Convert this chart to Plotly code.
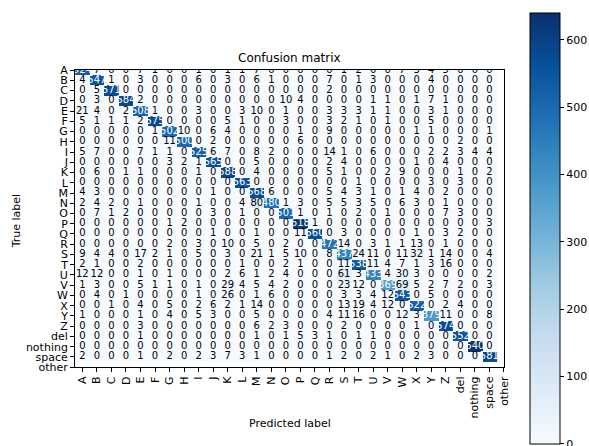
import numpy as np
import plotly.graph_objects as go

classes = list("ABCDEFGHIJKLMNOPQRSTUVWXYZ") + ["del", "nothing", "space", "other"]

row_A = [524,7,0,0,7,1,0,0,1,0,1,1,7,0,0,0,0,0,1, 2,0,0,7,3,4,5,0,0,0]
row_B = [4,547,1,0,3,0,0,0,6,0,3,0,6,1,0,0,0,7,0, 1,3,0,0,0,4,0,0,0,0]
row_C = [0,5,571,0,0,0,0,0,0,0,0,0,0,0,0,0,0,2,0, 0,0,0,0,0,0,0,0,0,0]
row_D = [0,3,0,584,2,0,0,0,0,0,0,0,0,0,10,4,0,0,0, 0,1,1,0,1,7,1,0,0,0]
row_E = [21,4,0,2,508,1,0,0,3,0,0,3,10,0,1,0,0,3,3, 3,1,1,0,0,3,1,0,0,0]
row_F = [5,1,1,1,2,575,0,0,0,0,5,1,0,0,3,0,0,3,2, 1,0,1,0,0,5,0,0,0,0]
row_G = [0,0,0,0,0,1,502,10,0,6,4,0,0,0,0,1,0,9,0, 0,0,0,0,1,1,0,0,0,1]
row_H = [0,0,0,0,0,0,11,500,0,2,0,0,0,0,0,6,0,0,0, 0,0,0,0,0,0,0,2,0,0]
row_I = [5,7,0,0,7,1,1,0,525,6,7,0,8,2,0,0,0,14,1, 0,6,0,0,0,2,2,3,4,4]
row_J = [0,0,0,0,0,0,3,2,1,565,0,0,5,0,0,0,0,2,4, 0,0,0,0,1,0,4,0,0,0]
row_K = [0,6,0,1,1,0,0,0,1,0,588,0,4,0,0,0,0,5,1, 0,0,2,9,0,0,0,1,0,2]
row_L = [0,0,0,0,0,0,0,0,0,0,0,563,0,0,0,0,0,0,0, 1,0,0,0,0,3,0,3,0,0]
row_M = [4,3,0,0,0,0,0,0,0,1,0,0,568,6,0,0,0,5,4, 3,1,0,1,4,0,2,0,0,0]
row_N = [2,4,2,0,1,0,0,0,1,0,0,4,80,480,1,3,0,5,5, 3,5,0,6,3,0,1,0,0,0]
row_O = [0,7,1,2,0,0,0,0,0,3,0,1,0,0,501,1,0,1,0, 2,0,1,0,0,0,7,3,0,0]
row_P = [0,0,0,0,0,0,1,2,0,0,0,0,0,0,0,618,1,0,0, 0,0,0,0,0,0,0,0,0,3]
row_Q = [0,0,0,0,0,0,0,0,0,1,0,0,1,0,0,11,560,0,3, 0,0,0,0,1,0,3,2,0,0]
row_R = [0,0,0,0,0,0,2,0,3,0,10,0,5,0,2,0,0,472,14, 0,3,1,1,13,0,1,0,0,0]
row_S = [9,4,4,0,17,2,1,0,5,0,3,0,21,1,5,10,0,8,437, 24,11,0,11,32,1,14,0,0,4]
row_T = [2,1,0,0,2,0,0,0,0,0,0,1,0,0,2,1,0,0,11, 538,11,4,7,1,3,16,0,0,0]
row_U = [12,12,0,0,1,0,1,0,0,0,2,6,1,2,4,0,0,0,61, 3,433,4,30,3,0,0,0,0,2]
row_V = [1,3,0,0,5,1,1,0,1,0,29,4,5,4,2,0,0,0,23, 12,0,369,69,5,2,7,2,0,3]
row_W = [0,4,0,1,0,0,0,0,1,0,26,0,1,6,0,0,0,0,3, 3,4,12,543,0,5,0,0,0,0]
row_X = [0,0,1,0,4,0,5,0,2,6,2,1,14,0,0,0,0,0,13, 19,4,12,0,522,0,2,4,0,0]
row_Y = [1,0,0,0,1,0,4,0,5,3,0,0,5,0,0,0,0,4,11, 16,0,0,12,3,379,11,0,0,8]
row_Z = [0,0,0,0,3,0,0,0,0,0,0,0,6,2,3,0,0,0,2, 0,0,0,0,1,0,574,0,0,0]
row_del = [0,0,0,0,1,0,0,0,0,0,0,0,1,0,1,5,3,1,0, 1,1,0,0,0,0,0,552,0,0]
row_nothing = [0,0,0,0,0,0,0,0,0,0,0,0,0,0,0,0,0,0,0, 0,0,0,0,0,0,0,0,640,0]
row_space = [2,0,0,0,1,0,2,0,2,3,7,3,1,0,0,0,0,1,2, 0,2,1,0,2,3,0,0,0,581]

cm = np.array([row_A, row_B, row_C, row_D, row_E, row_F, row_G, row_H, row_I,
               row_J, row_K, row_L, row_M, row_N, row_O, row_P, row_Q, row_R,
               row_S, row_T, row_U, row_V, row_W, row_X, row_Y, row_Z,
               row_del, row_nothing, row_space])
n = cm.shape[0]
zmax = cm.max()
thresh = zmax / 2.0

blues = [[0.0, "#f7fbff"], [0.125, "#deebf7"], [0.25, "#c6dbef"], [0.375, "#9ecae1"],
         [0.5, "#6baed6"], [0.625, "#4292c6"], [0.75, "#2171b5"], [0.875, "#08519c"],
         [1.0, "#08306b"]]

W, H = 589, 446
x0, x1 = 76, 510
y0, y1 = 66, 372

fig = go.Figure()
fig.add_trace(go.Heatmap(
    z=cm, x=list(range(n)), y=list(range(n)),
    colorscale=blues, zmin=0, zmax=zmax, hoverinfo="skip",
    colorbar=dict(
        thickness=30, thicknessmode="pixels",
        len=431, lenmode="pixels",
        x=536 / W, xanchor="left", xpad=0,
        y=1 - 7 / H, yanchor="top", ypad=0,
        outlinecolor="black", outlinewidth=1,
        ticks="outside", ticklen=4, tickcolor="black",
        tickvals=[0, 100, 200, 300, 400, 500, 600],
        ticktext=["0", "100", "200", "300", "400", "500", "600"],
        ticklabeloverflow="allow",
        tickfont=dict(family="DejaVu Sans", size=11, color="black"),
    ),
))

xs, ys, ts, cs = [], [], [], []
for i in range(n):
    for j in range(n):
        xs.append(j)
        ys.append(i)
        ts.append(str(cm[i, j]))
        cs.append("white" if cm[i, j] > thresh else "black")
fig.add_trace(go.Scatter(
    x=xs, y=ys, text=ts, mode="text",
    textfont=dict(family="DejaVu Sans", size=10, color=cs),
    hoverinfo="skip", showlegend=False,
))

axis_common = dict(
    showline=True, mirror=True, linecolor="black", linewidth=1,
    ticks="outside", ticklen=4, tickcolor="black",
    showgrid=False, zeroline=False,
    tickfont=dict(family="DejaVu Sans", size=11, color="black"),
    tickmode="array", tickvals=list(range(len(classes))), ticktext=classes,
)
fig.update_xaxes(range=[-0.5, 29], domain=[x0 / W, x1 / W], tickangle=-90, **axis_common)
fig.update_yaxes(range=[29, 0], domain=[1 - y1 / H, 1 - y0 / H], **axis_common)

fig.update_layout(
    width=W, height=H,
    margin=dict(l=0, r=0, t=0, b=0),
    paper_bgcolor="white", plot_bgcolor="white",
    showlegend=False,
    font=dict(family="DejaVu Sans", color="black"),
    annotations=[
        dict(text="Confusion matrix", x=(x0 + x1) / 2 / W, y=1 - 54 / H,
             xref="paper", yref="paper", showarrow=False,
             xanchor="center", yanchor="middle",
             font=dict(size=12, family="DejaVu Sans", color="black")),
        dict(text="Predicted label", x=(x0 + x1) / 2 / W, y=1 - 430 / H,
             xref="paper", yref="paper", showarrow=False,
             xanchor="center", yanchor="middle",
             font=dict(size=11, family="DejaVu Sans", color="black")),
        dict(text="True label", x=17 / W, y=1 - 222 / H, textangle=-90,
             xref="paper", yref="paper", showarrow=False,
             xanchor="center", yanchor="middle",
             font=dict(size=11, family="DejaVu Sans", color="black")),
    ],
)

fig.write_html("out.html",
               config={"displayModeBar": False, "staticPlot": True},
               post_script="document.body.style.margin='0';document.body.style.overflow='hidden';")
